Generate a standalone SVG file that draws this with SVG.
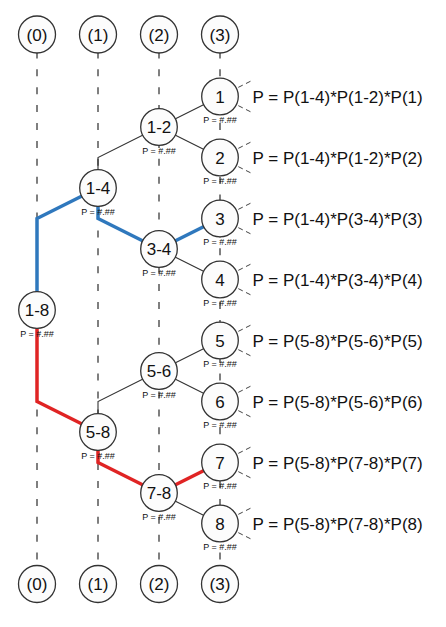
<svg xmlns="http://www.w3.org/2000/svg" width="446" height="627" viewBox="0 0 446 627">
<style>
  .col { stroke: #555; stroke-width: 1.5; stroke-dasharray: 7 10.9; stroke-dashoffset: 1.6; fill: none; }
  .ln { stroke: #333; stroke-width: 1.1; fill: none; }
  .blue { stroke: #2f78bd; stroke-width: 3.5; fill: none; stroke-linejoin: miter; }
  .red { stroke: #e02424; stroke-width: 3.5; fill: none; stroke-linejoin: miter; }
  .ray { stroke: #444; stroke-width: 1; stroke-dasharray: 5 3.6; fill: none; }
  .nd circle { fill: #fcfcfc; stroke: #333; stroke-width: 1.3; }
  .lbl { font-family: "Liberation Sans", Arial, sans-serif; font-size: 17px; fill: #111; text-anchor: middle; }
  .p { font-family: "Liberation Sans", Arial, sans-serif; font-size: 9px; fill: #111; text-anchor: middle; }
  .f { font-family: "Liberation Sans", Arial, sans-serif; font-size: 17px; fill: #111; }
</style>

<g id="columns">
  <line class="col" x1="37" y1="53" x2="37" y2="566"/>
  <line class="col" x1="98" y1="53" x2="98" y2="566"/>
  <line class="col" x1="159" y1="53" x2="159" y2="566"/>
  <line class="col" x1="220" y1="53" x2="220" y2="566"/>
</g>

<g id="connectors">
  <path class="ln" d="M98,188 V157.5 L159,127"/>
  <path class="ln" d="M159,127 L220,96.5"/>
  <path class="ln" d="M159,127 L220,157.5"/>
  <path class="ln" d="M159,249 L220,279.5"/>
  <path class="ln" d="M98,432 V401.5 L159,371"/>
  <path class="ln" d="M159,371 L220,340.5"/>
  <path class="ln" d="M159,371 L220,401.5"/>
  <path class="ln" d="M159,493 L220,523.5"/>
  <path class="blue" d="M37,310 V218.5 L98,188"/>
  <path class="blue" d="M98,188 V218.5 L159,249"/>
  <path class="blue" d="M159,249 L220,218.5"/>
  <path class="red" d="M37,310 V401.5 L98,432"/>
  <path class="red" d="M98,432 V462.5 L159,493"/>
  <path class="red" d="M159,493 L220,462.5"/>
  <g id="stubs">
    <path class="ray" d="M238.3,87.35 L251,81 M238.3,105.65 L251,112"/>
    <path class="ray" d="M238.3,148.35 L251,142 M238.3,166.65 L251,173"/>
    <path class="ray" d="M238.3,209.35 L251,203 M238.3,227.65 L251,234"/>
    <path class="ray" d="M238.3,270.35 L251,264 M238.3,288.65 L251,295"/>
    <path class="ray" d="M238.3,331.35 L251,325 M238.3,349.65 L251,356"/>
    <path class="ray" d="M238.3,392.35 L251,386 M238.3,410.65 L251,417"/>
    <path class="ray" d="M238.3,453.35 L251,447 M238.3,471.65 L251,478"/>
    <path class="ray" d="M238.3,514.35 L251,508 M238.3,532.65 L251,539"/>
  </g>
</g>

<g id="top-0" class="nd"><circle cx="37" cy="34.5" r="18.5"/><text class="lbl" x="37" y="40.5">(0)</text></g>
<g id="top-1" class="nd"><circle cx="98" cy="34.5" r="18.5"/><text class="lbl" x="98" y="40.5">(1)</text></g>
<g id="top-2" class="nd"><circle cx="159" cy="34.5" r="18.5"/><text class="lbl" x="159" y="40.5">(2)</text></g>
<g id="top-3" class="nd"><circle cx="220" cy="34.5" r="18.5"/><text class="lbl" x="220" y="40.5">(3)</text></g>

<g id="n1-8" class="nd"><circle cx="37" cy="310" r="18.3"/><text class="lbl" x="37" y="316">1-8</text><text class="p" x="37" y="337">P = #.##</text></g>
<g id="n1-4" class="nd"><circle cx="98" cy="188" r="18.3"/><text class="lbl" x="98" y="194">1-4</text><text class="p" x="98" y="215">P = #.##</text></g>
<g id="n5-8" class="nd"><circle cx="98" cy="432" r="18.3"/><text class="lbl" x="98" y="438">5-8</text><text class="p" x="98" y="459">P = #.##</text></g>
<g id="n1-2" class="nd"><circle cx="159" cy="127" r="18.3"/><text class="lbl" x="159" y="133">1-2</text><text class="p" x="159" y="154">P = #.##</text></g>
<g id="n3-4" class="nd"><circle cx="159" cy="249" r="18.3"/><text class="lbl" x="159" y="255">3-4</text><text class="p" x="159" y="276">P = #.##</text></g>
<g id="n5-6" class="nd"><circle cx="159" cy="371" r="18.3"/><text class="lbl" x="159" y="377">5-6</text><text class="p" x="159" y="398">P = #.##</text></g>
<g id="n7-8" class="nd"><circle cx="159" cy="493" r="18.3"/><text class="lbl" x="159" y="499">7-8</text><text class="p" x="159" y="520">P = #.##</text></g>

<g id="n1" class="nd"><circle cx="220" cy="96.5" r="18.3"/><text class="lbl" x="220" y="102.5">1</text><text class="p" x="220" y="123">P = #.##</text><text class="f" x="252.5" y="102.5">P = P(1-4)*P(1-2)*P(1)</text></g>
<g id="n2" class="nd"><circle cx="220" cy="157.5" r="18.3"/><text class="lbl" x="220" y="163.5">2</text><text class="p" x="220" y="184">P = #.##</text><text class="f" x="252.5" y="163.5">P = P(1-4)*P(1-2)*P(2)</text></g>
<g id="n3" class="nd"><circle cx="220" cy="218.5" r="18.3"/><text class="lbl" x="220" y="224.5">3</text><text class="p" x="220" y="245">P = #.##</text><text class="f" x="252.5" y="224.5">P = P(1-4)*P(3-4)*P(3)</text></g>
<g id="n4" class="nd"><circle cx="220" cy="279.5" r="18.3"/><text class="lbl" x="220" y="285.5">4</text><text class="p" x="220" y="306">P = #.##</text><text class="f" x="252.5" y="285.5">P = P(1-4)*P(3-4)*P(4)</text></g>
<g id="n5" class="nd"><circle cx="220" cy="340.5" r="18.3"/><text class="lbl" x="220" y="346.5">5</text><text class="p" x="220" y="367">P = #.##</text><text class="f" x="252.5" y="346.5">P = P(5-8)*P(5-6)*P(5)</text></g>
<g id="n6" class="nd"><circle cx="220" cy="401.5" r="18.3"/><text class="lbl" x="220" y="407.5">6</text><text class="p" x="220" y="428">P = #.##</text><text class="f" x="252.5" y="407.5">P = P(5-8)*P(5-6)*P(6)</text></g>
<g id="n7" class="nd"><circle cx="220" cy="462.5" r="18.3"/><text class="lbl" x="220" y="468.5">7</text><text class="p" x="220" y="489">P = #.##</text><text class="f" x="252.5" y="468.5">P = P(5-8)*P(7-8)*P(7)</text></g>
<g id="n8" class="nd"><circle cx="220" cy="523.5" r="18.3"/><text class="lbl" x="220" y="529.5">8</text><text class="p" x="220" y="550">P = #.##</text><text class="f" x="252.5" y="529.5">P = P(5-8)*P(7-8)*P(8)</text></g>

<g id="bottom-0" class="nd"><circle cx="37" cy="584" r="18.5"/><text class="lbl" x="37" y="590">(0)</text></g>
<g id="bottom-1" class="nd"><circle cx="98" cy="584" r="18.5"/><text class="lbl" x="98" y="590">(1)</text></g>
<g id="bottom-2" class="nd"><circle cx="159" cy="584" r="18.5"/><text class="lbl" x="159" y="590">(2)</text></g>
<g id="bottom-3" class="nd"><circle cx="220" cy="584" r="18.5"/><text class="lbl" x="220" y="590">(3)</text></g>
</svg>
